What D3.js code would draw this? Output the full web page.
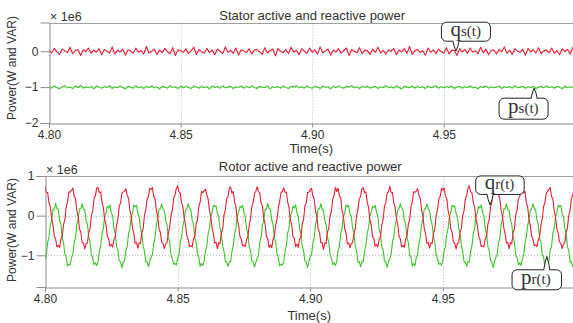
<!DOCTYPE html>
<html>
<head>
<meta charset="utf-8">
<script src="https://cdn.jsdelivr.net/npm/d3@7"></script>
<style>
  html, body { margin: 0; padding: 0; background: #fff; }
  svg { display: block; }
  text { font-family: "Liberation Sans", Arial, sans-serif; fill: #333; }
</style>
</head>
<body>
<svg id="chart" width="573" height="323"></svg>
<script>
// ---------------- data (values in units of 1e6) ----------------
const timeStart = 4.80;
const statorStep = 0.001;   // s between stator samples
const rotorStep = 0.0005;   // s between rotor samples
const xTickValues = [4.80, 4.85, 4.90, 4.95];
const statorYTicks = [-2, -1, 0];
const rotorYTicks = [-1, 0, 1];

const statorQ = [
 0.03,-0.05,0.08,-0.02,-0.09,0.06,0.01,-0.04,0.11,-0.07,
 0.02,0.05,-0.12,0.04,-0.01,0.09,-0.06,0.03,-0.03,0.07,
 -0.10,0.05,0.00,-0.05,0.12,-0.08,0.03,-0.02,0.06,-0.11,
 0.04,0.01,-0.06,0.09,-0.03,0.02,-0.08,0.13,-0.05,0.00,
 0.06,-0.09,0.03,-0.04,0.08,-0.01,-0.07,0.10,-0.12,0.04,
 0.02,-0.03,0.07,-0.06,0.01,0.11,-0.09,0.05,-0.02,-0.05,
 0.08,-0.04,0.03,-0.10,0.06,0.00,-0.07,0.12,-0.03,0.02,
 -0.06,0.09,-0.11,0.04,0.01,-0.04,0.07,-0.08,0.03,0.05,
 -0.02,-0.09,0.10,-0.05,0.02,0.06,-0.13,0.08,-0.01,-0.04,
 0.05,-0.07,0.11,-0.02,0.03,-0.10,0.07,0.00,-0.06,0.09,
 -0.03,0.04,-0.08,0.12,-0.05,0.01,0.06,-0.11,0.03,-0.02,
 0.07,-0.06,0.02,0.09,-0.12,0.05,-0.01,-0.04,0.10,-0.07,
 0.03,0.01,-0.09,0.06,-0.03,0.11,-0.05,0.02,-0.08,0.04,
 0.00,0.08,-0.10,0.03,-0.02,0.07,-0.06,0.13,-0.09,0.01,
 0.05,-0.04,0.02,-0.11,0.09,-0.03,0.04,-0.07,0.06,-0.01,
 -0.05,0.10,-0.08,0.03,0.02,-0.12,0.07,-0.02,0.05,-0.06,
 0.09,-0.03,0.01,-0.07,0.11,-0.04,0.06,-0.10,0.02,0.04,
 -0.08,0.05,-0.01,0.12,-0.06,0.03,-0.09,0.07,0.00,-0.03,
 0.06,-0.11,0.08,-0.02,0.04,-0.05,0.10,-0.07,0.01,0.03,
 -0.04,0.09,-0.06,0.02,-0.10,0.07,-0.01,0.05,-0.08,0.11,
 0.02
];

const statorP = [
 -0.98,-1.03,-0.97,-1.01,-1.05,-0.99,-0.96,-1.02,-1.00,-1.04,
 -0.97,-1.01,-0.95,-1.03,-0.99,-1.02,-0.98,-1.05,-0.97,-1.00,
 -1.03,-0.98,-1.01,-0.96,-1.04,-0.99,-1.02,-0.97,-1.01,-1.05,
 -0.98,-1.00,-1.03,-0.96,-1.02,-0.99,-1.04,-0.98,-1.01,-0.97,
 -1.02,-0.99,-1.05,-0.98,-1.00,-1.03,-0.96,-1.01,-0.99,-1.04,
 -0.97,-1.02,-0.98,-1.01,-1.04,-0.97,-1.00,-1.03,-0.98,-1.02,
 -0.99,-1.05,-0.97,-1.01,-0.98,-1.03,-0.96,-1.02,-1.00,-0.98,
 -1.04,-0.99,-1.01,-0.97,-1.03,-0.98,-1.02,-0.96,-1.01,-1.04,
 -0.98,-1.00,-1.02,-0.97,-1.05,-0.99,-1.01,-0.98,-1.03,-0.97,
 -1.01,-1.04,-0.98,-1.00,-0.96,-1.02,-0.99,-1.03,-0.97,-1.01,
 -1.03,-0.98,-1.00,-1.04,-0.97,-1.01,-0.99,-1.05,-0.98,-1.02,
 -0.97,-1.01,-1.03,-0.98,-1.00,-0.96,-1.02,-0.99,-1.04,-0.98,
 -1.01,-0.97,-1.03,-1.00,-0.98,-1.04,-0.99,-1.01,-0.96,-1.02,
 -0.99,-1.03,-0.97,-1.01,-1.05,-0.98,-1.00,-1.02,-0.97,-1.03,
 -0.98,-1.01,-0.99,-1.04,-0.97,-1.02,-1.00,-0.96,-1.03,-0.99,
 -1.02,-0.98,-1.01,-0.97,-1.04,-1.00,-0.98,-1.03,-0.99,-1.01,
 -0.97,-1.02,-1.00,-1.05,-0.98,-1.01,-0.97,-1.03,-0.99,-1.02,
 -1.00,-0.97,-1.04,-0.99,-1.01,-0.98,-1.03,-0.96,-1.02,-1.00,
 -0.98,-1.03,-0.99,-1.01,-0.97,-1.04,-1.00,-0.98,-1.02,-0.97,
 -1.01,-0.99,-1.03,-0.98,-1.00,-1.05,-0.97,-1.02,-0.99,-1.01,
 -0.98
];

const rotorQ = [
 0.74,0.59,0.58,0.32,0.23,-0.08,-0.22,-0.52,-0.59,-0.79,-0.75,-0.80,-0.59,-0.52,-0.22,-0.10,0.22,0.35,0.60,0.59,
 0.64,0.70,0.49,0.43,0.12,-0.01,-0.33,-0.42,-0.67,-0.69,-0.84,-0.70,-0.69,-0.42,-0.32,0.00,0.12,0.43,0.50,0.70,
 0.71,0.58,0.60,0.34,0.21,-0.11,-0.23,-0.53,-0.58,-0.77,-0.73,-0.79,-0.60,-0.54,-0.23,-0.09,0.24,0.32,0.57,0.60,
 0.62,0.68,0.51,0.44,0.13,0.00,-0.32,-0.45,-0.70,-0.68,-0.82,-0.69,-0.70,-0.44,-0.33,0.01,0.15,0.42,0.48,0.69,
 0.66,0.71,0.48,0.43,0.13,-0.02,-0.33,-0.43,-0.66,-0.70,-0.83,-0.71,-0.68,-0.42,-0.31,0.00,0.13,0.44,0.51,0.68,
 0.75,0.60,0.57,0.33,0.22,-0.07,-0.23,-0.51,-0.60,-0.78,-0.76,-0.79,-0.58,-0.53,-0.21,-0.10,0.23,0.34,0.61,0.58,
 0.63,0.67,0.52,0.43,0.14,-0.01,-0.31,-0.46,-0.69,-0.67,-0.83,-0.68,-0.71,-0.43,-0.34,0.02,0.14,0.43,0.47,0.70,
 0.72,0.57,0.61,0.33,0.22,-0.10,-0.24,-0.52,-0.59,-0.76,-0.74,-0.78,-0.61,-0.53,-0.24,-0.08,0.23,0.33,0.56,0.61,
 0.73,0.60,0.57,0.31,0.24,-0.09,-0.21,-0.53,-0.58,-0.80,-0.74,-0.81,-0.60,-0.51,-0.23,-0.09,0.21,0.36,0.59,0.60,
 0.70,0.59,0.59,0.35,0.20,-0.12,-0.22,-0.54,-0.57,-0.78,-0.72,-0.80,-0.59,-0.55,-0.22,-0.10,0.25,0.31,0.58,0.59,
 0.65,0.69,0.50,0.42,0.11,0.00,-0.34,-0.41,-0.68,-0.68,-0.85,-0.69,-0.70,-0.41,-0.33,0.01,0.11,0.42,0.51,0.71,
 0.61,0.69,0.50,0.45,0.12,0.01,-0.33,-0.44,-0.71,-0.69,-0.81,-0.70,-0.69,-0.45,-0.32,0.00,0.16,0.41,0.49,0.68,
 0.71,0.58,0.60,0.34,0.21,-0.11,-0.23,-0.53,-0.58,-0.77,-0.73,-0.79,-0.60,-0.54,-0.23,-0.09,0.24,0.32,0.57,0.60,
 0.74,0.59,0.58,0.32,0.23,-0.08,-0.22,-0.52,-0.59,-0.79,-0.75,-0.80,-0.59,-0.52,-0.22,-0.10,0.22,0.35,0.60,0.59,
 0.62,0.68,0.51,0.44,0.13,0.00,-0.32,-0.45,-0.70,-0.68,-0.82,-0.69,-0.70,-0.44,-0.33,0.01,0.15,0.42,0.48,0.69,
 0.64,0.70,0.49,0.43,0.12,-0.01,-0.33,-0.42,-0.67,-0.69,-0.84,-0.70,-0.69,-0.42,-0.32,0.00,0.12,0.43,0.50,0.70,
 0.75,0.60,0.57,0.33,0.22,-0.07,-0.23,-0.51,-0.60,-0.78,-0.76,-0.79,-0.58,-0.53,-0.21,-0.10,0.23,0.34,0.61,0.58,
 0.63,0.67,0.52,0.43,0.14,-0.01,-0.31,-0.46,-0.69,-0.67,-0.83,-0.68,-0.71,-0.43,-0.34,0.02,0.14,0.43,0.47,0.70,
 0.72,0.57,0.61,0.33,0.22,-0.10,-0.24,-0.52,-0.59,-0.76,-0.74,-0.78,-0.61,-0.53,-0.24,-0.08,0.23,0.33,0.56,0.61,
 0.66,0.71,0.48,0.43,0.13,-0.02,-0.33,-0.43,-0.66,-0.70,-0.83,-0.71,-0.68,-0.42,-0.31,0.00,0.13,0.44,0.51,0.68,
 0.72
];

const rotorP = [
 -1.08,-1.00,-0.67,-0.54,-0.24,-0.12,0.16,0.16,0.31,0.18,0.16,-0.11,-0.23,-0.56,-0.68,-0.98,-1.05,-1.27,-1.22,-1.25,
 -1.05,-0.99,-0.69,-0.56,-0.22,-0.09,0.17,0.17,0.30,0.16,0.14,-0.12,-0.22,-0.54,-0.67,-0.99,-1.07,-1.24,-1.19,-1.26,
 -1.17,-0.90,-0.76,-0.44,-0.32,-0.01,0.07,0.24,0.19,0.27,0.07,-0.01,-0.33,-0.46,-0.78,-0.88,-1.14,-1.17,-1.31,-1.16,
 -1.15,-0.88,-0.78,-0.45,-0.33,-0.02,0.06,0.27,0.22,0.26,0.05,-0.02,-0.32,-0.44,-0.77,-0.89,-1.17,-1.16,-1.29,-1.15,
 -1.06,-0.98,-0.70,-0.55,-0.23,-0.08,0.16,0.18,0.29,0.17,0.13,-0.11,-0.23,-0.53,-0.68,-0.98,-1.08,-1.23,-1.20,-1.25,
 -1.09,-0.99,-0.68,-0.53,-0.25,-0.11,0.15,0.17,0.30,0.19,0.15,-0.12,-0.22,-0.57,-0.67,-0.99,-1.04,-1.28,-1.21,-1.26,
 -1.14,-0.89,-0.77,-0.46,-0.32,-0.03,0.07,0.26,0.23,0.25,0.06,-0.03,-0.31,-0.45,-0.76,-0.90,-1.16,-1.17,-1.28,-1.16,
 -1.16,-0.91,-0.75,-0.45,-0.31,-0.02,0.08,0.23,0.20,0.26,0.08,-0.02,-0.34,-0.45,-0.79,-0.87,-1.15,-1.16,-1.30,-1.17,
 -1.08,-1.00,-0.67,-0.54,-0.24,-0.12,0.16,0.16,0.31,0.18,0.16,-0.11,-0.23,-0.56,-0.68,-0.98,-1.05,-1.27,-1.22,-1.25,
 -1.17,-0.90,-0.76,-0.44,-0.32,-0.01,0.07,0.24,0.19,0.27,0.07,-0.01,-0.33,-0.46,-0.78,-0.88,-1.14,-1.17,-1.31,-1.16,
 -1.05,-0.99,-0.69,-0.56,-0.22,-0.09,0.17,0.17,0.30,0.16,0.14,-0.12,-0.22,-0.54,-0.67,-0.99,-1.07,-1.24,-1.19,-1.26,
 -1.15,-0.88,-0.78,-0.45,-0.33,-0.02,0.06,0.27,0.22,0.26,0.05,-0.02,-0.32,-0.44,-0.77,-0.89,-1.17,-1.16,-1.29,-1.15,
 -1.16,-0.91,-0.75,-0.45,-0.31,-0.02,0.08,0.23,0.20,0.26,0.08,-0.02,-0.34,-0.45,-0.79,-0.87,-1.15,-1.16,-1.30,-1.17,
 -1.09,-0.99,-0.68,-0.53,-0.25,-0.11,0.15,0.17,0.30,0.19,0.15,-0.12,-0.22,-0.57,-0.67,-0.99,-1.04,-1.28,-1.21,-1.26,
 -1.06,-0.98,-0.70,-0.55,-0.23,-0.08,0.16,0.18,0.29,0.17,0.13,-0.11,-0.23,-0.53,-0.68,-0.98,-1.08,-1.23,-1.20,-1.25,
 -1.14,-0.89,-0.77,-0.46,-0.32,-0.03,0.07,0.26,0.23,0.25,0.06,-0.03,-0.31,-0.45,-0.76,-0.90,-1.16,-1.17,-1.28,-1.16,
 -1.17,-0.90,-0.76,-0.44,-0.32,-0.01,0.07,0.24,0.19,0.27,0.07,-0.01,-0.33,-0.46,-0.78,-0.88,-1.14,-1.17,-1.31,-1.16,
 -1.05,-0.99,-0.69,-0.56,-0.22,-0.09,0.17,0.17,0.30,0.16,0.14,-0.12,-0.22,-0.54,-0.67,-0.99,-1.07,-1.24,-1.19,-1.26,
 -1.09,-0.99,-0.68,-0.53,-0.25,-0.11,0.15,0.17,0.30,0.19,0.15,-0.12,-0.22,-0.57,-0.67,-0.99,-1.04,-1.28,-1.21,-1.26,
 -1.15,-0.88,-0.78,-0.45,-0.33,-0.02,0.06,0.27,0.22,0.26,0.05,-0.02,-0.32,-0.44,-0.77,-0.89,-1.17,-1.16,-1.29,-1.15,
 -1.10
];

// annotation callouts: anchor (time, value) + box geometry in px relative to anchor
const annotations = [
  { panel: 0, main: "q", sub: "s(t)", t: 4.9546, v: 0.00,  box: [-14.5, -29, 49, 19], tail: [-3, 3] },
  { panel: 0, main: "p", sub: "s(t)", t: 4.9843, v: -1.03, box: [-35, 10, 49, 21],   tail: [-3, 3] },
  { panel: 1, main: "q", sub: "r(t)", t: 4.9678, v: 0.27,  box: [-14.3, -29, 48.5, 18.5], tail: [-3, 3] },
  { panel: 1, main: "p", sub: "r(t)", t: 4.9892, v: -1.03, box: [-34.7, 13.3, 49.5, 20], tail: [-3, 3] }
];

const redColor = "#ee1d32";
const greenColor = "#3cc627";

// ---------------- drawing ----------------
const svg = d3.select("#chart");

const panels = [
  { title: "Stator active and reactive power",
    left: 49, right: 575.4, top: 22.5, bottom: 123, yDomain: [-2, 0.8], yTicks: statorYTicks,
    series: [ {values: statorP, color: greenColor}, {values: statorQ, color: redColor} ],
    step: statorStep, titleY: 19.5, expY: 20.5, xLabelY: 153, yLabelY: 68 },
  { title: "Rotor active and reactive power",
    left: 45, right: 575.4, top: 176, bottom: 287, yDomain: [-1.8, 1], yTicks: rotorYTicks,
    series: [ {values: rotorP, color: greenColor}, {values: rotorQ, color: redColor} ],
    step: rotorStep, titleY: 171, expY: 173.5, xLabelY: 319.5, yLabelY: 230 }
];

panels.forEach((p, pi) => {
  const x = d3.scaleLinear().domain([4.80, 5.00]).range([p.left, p.right]);
  const y = d3.scaleLinear().domain(p.yDomain).range([p.bottom, p.top]);
  p.x = x; p.y = y;
  const g = svg.append("g");

  // grid (dotted)
  g.append("g").selectAll("line").data(xTickValues.slice(1)).join("line")
    .attr("x1", d => Math.round(x(d)) + 0.5).attr("x2", d => Math.round(x(d)) + 0.5)
    .attr("y1", p.top).attr("y2", p.bottom)
    .attr("stroke", "#bdbdbd").attr("stroke-width", 1).attr("stroke-dasharray", "1,2");
  g.append("g").selectAll("line").data(p.yTicks.filter(d => d > p.yDomain[0] && d < p.yDomain[1])).join("line")
    .attr("x1", p.left).attr("x2", p.right)
    .attr("y1", d => Math.round(y(d)) + 0.5).attr("y2", d => Math.round(y(d)) + 0.5)
    .attr("stroke", "#bdbdbd").attr("stroke-width", 1).attr("stroke-dasharray", "1,2");

  // clip
  const clipId = "clip" + pi;
  svg.append("clipPath").attr("id", clipId).append("rect")
    .attr("x", p.left).attr("y", p.top).attr("width", p.right - p.left).attr("height", p.bottom - p.top);

  const line = d3.line()
    .x((d, i) => x(timeStart + i * p.step))
    .y(d => y(d));

  const lg = g.append("g").attr("clip-path", `url(#${clipId})`);
  p.series.forEach(s => {
    lg.append("path").attr("d", line(s.values))
      .attr("fill", "none").attr("stroke", s.color).attr("stroke-width", 1.1)
      .attr("stroke-linejoin", "round");
  });

  // frame
  g.append("line").attr("x1", p.left).attr("x2", p.right)
    .attr("y1", Math.round(p.top) + 0.5).attr("y2", Math.round(p.top) + 0.5)
    .attr("stroke", "#a0a0a0");

  // axes
  const xAxis = d3.axisBottom(x).tickValues(xTickValues).tickFormat(d3.format(".2f"))
    .tickSize(4).tickPadding(3);
  const xa = g.append("g").attr("transform", `translate(0,${Math.round(p.bottom) + 0.5})`).call(xAxis);
  const yAxis = d3.axisLeft(y).tickValues(p.yTicks).tickFormat(d3.format("d"))
    .tickSize(9).tickPadding(2);
  const ya = g.append("g").attr("transform", `translate(${Math.round(p.left) + 0.5},0)`).call(yAxis);
  [xa, ya].forEach(a => {
    a.select(".domain").attr("stroke", "#8c8c8c");
    a.selectAll(".tick line").attr("stroke", "#8c8c8c");
    a.selectAll(".tick text").attr("fill", "#333").style("font-size", "12px")
      .style("font-family", "'Liberation Sans', Arial, sans-serif");
  });

  // texts
  svg.append("text").attr("x", (p.left + p.right) / 2).attr("y", p.titleY)
    .attr("text-anchor", "middle").style("font-size", "13px").text(p.title);
  svg.append("text").attr("x", p.left + 1).attr("y", p.expY)
    .style("font-size", "12.5px").text("× 1e6");
  svg.append("text").attr("x", (p.left + p.right) / 2 - 1).attr("y", p.xLabelY)
    .attr("text-anchor", "middle").style("font-size", "13px").text("Time(s)");
  svg.append("text").attr("transform", `translate(16,${p.yLabelY}) rotate(-90)`)
    .attr("text-anchor", "middle").style("font-size", "12px").text("Power(W and VAR)");
});

// callouts
annotations.forEach(a => {
  const p = panels[a.panel];
  const ax = p.x(a.t), ay = p.y(a.v);
  const bx = ax + a.box[0], by = ay + a.box[1], bw = a.box[2], bh = a.box[3];
  const g = svg.append("g");
  g.append("rect").attr("x", bx).attr("y", by).attr("width", bw).attr("height", bh)
    .attr("rx", 5).attr("ry", 5).attr("fill", "#fff").attr("stroke", "#222").attr("stroke-width", 1);
  const below = by > ay; // box below anchor => tail goes up from top edge
  const baseY = below ? by : by + bh;
  const x1 = ax + a.tail[0], x2 = ax + a.tail[1];
  const midY = (baseY + ay) / 2;
  g.append("path")
    .attr("d", `M${x1},${baseY} Q${x1 + 1},${midY} ${ax},${ay} Q${x2 - 0.5},${midY} ${x2},${baseY}`)
    .attr("fill", "#fff").attr("stroke", "#222").attr("stroke-width", 1);
  g.append("line").attr("x1", x1 + 0.8).attr("x2", x2 - 0.8)
    .attr("y1", baseY).attr("y2", baseY).attr("stroke", "#fff").attr("stroke-width", 2);
  const t = g.append("text").attr("x", bx + 9).attr("y", by + bh * 0.7)
    .style("font-family", "'Liberation Serif', 'Times New Roman', serif").attr("fill", "#111");
  t.append("tspan").style("font-size", "21px").text(a.main);
  t.append("tspan").style("font-size", "15px").text(a.sub);
});
</script>
</body>
</html>
